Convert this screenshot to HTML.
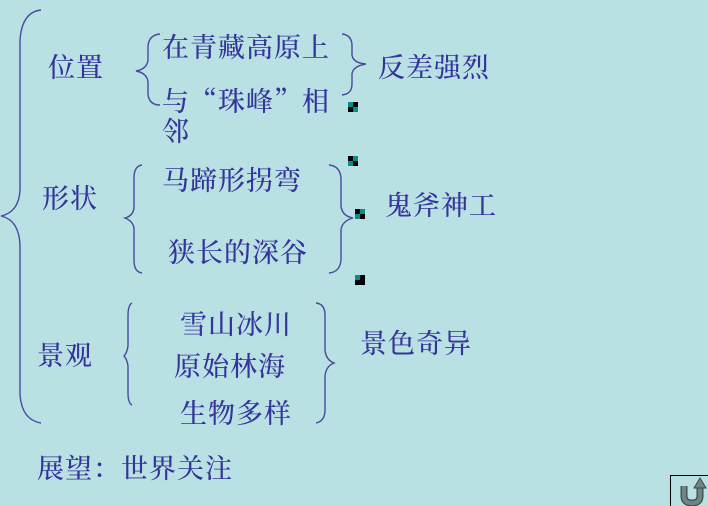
<!DOCTYPE html>
<html><head><meta charset="utf-8"><style>
html,body{margin:0;padding:0;background:#b9e0e3;}
svg{display:block}
text{font-family:"Noto Serif CJK SC","Noto Sans CJK SC",serif;font-size:27px;letter-spacing:1px;fill:#35349a;font-weight:500;}
path{fill:none;stroke:#4a4a9e;stroke-width:1.4}
</style></head><body>
<svg width="708" height="506" viewBox="0 0 708 506">
<rect width="708" height="506" fill="#b9e0e3"/>
<path d="M41,10 Q22,12 20,40 L20,190 Q19,212 1,216 Q19,220 20,245 L20,395 Q22,420 41,423"/>
<path d="M160,34 Q149,35 148,46 L148,60 Q147,69 136,71 Q147,73 148,82 L148,94 Q149,105 160,105"/>
<path d="M342,34 Q352,35 352,46 L352,55 Q353,63 366,64 Q353,66 352,74 L352,84 Q352,94 342,95"/>
<path d="M142,165 Q134,166 134,178 L134,208 Q133,216 125,218 Q133,221 134,228 L134,260 Q134,272 142,273"/>
<path d="M329,165 Q340,166 341,178 L341,206 Q342,216 353,218 Q342,221 341,230 L341,260 Q340,272 329,273"/>
<path d="M132,303 Q128,305 128,316 L128,346 Q127,353 124,356 Q127,359 128,366 L128,393 Q128,403 132,405"/>
<path d="M316,303 Q325,304 325,315 L325,350 Q326,360 334,363 Q326,366 325,376 L325,410 Q325,421 316,423"/>
<g>
<rect x="348" y="102" width="10" height="10" fill="#000"/><rect x="348" y="102" width="5" height="5" fill="#0a8c8c"/><rect x="353" y="107" width="5" height="5" fill="#0a8c8c"/>
<rect x="348" y="156" width="10" height="10" fill="#000"/><rect x="353" y="156" width="5" height="5" fill="#0a8c8c"/><rect x="348" y="161" width="5" height="5" fill="#0a8c8c"/>
<rect x="355" y="209" width="10" height="10" fill="#000"/><rect x="355" y="214" width="5" height="5" fill="#0a8c8c"/><rect x="360" y="209" width="5" height="5" fill="#0a8c8c"/>
<rect x="355" y="275" width="10" height="10" fill="#000"/><rect x="355" y="275" width="5" height="5" fill="#0a8c8c"/>
</g>
<text x="48" y="77">位置</text>
<text x="162" y="57">在青藏高原上</text>
<text x="162" y="111">与“珠峰”相</text>
<text x="162" y="141">邻</text>
<text x="378" y="77">反差强烈</text>
<text x="42" y="208">形状</text>
<text x="162" y="190">马蹄形拐弯</text>
<text x="168" y="262">狭长的深谷</text>
<text x="385" y="215">鬼斧神工</text>
<text x="37" y="365">景观</text>
<text x="180" y="334">雪山冰川</text>
<text x="174" y="376">原始林海</text>
<text x="180" y="423">生物多样</text>
<text x="360" y="353">景色奇异</text>
<text x="37" y="478">展望：世界关注</text>
<rect x="670.5" y="475.5" width="40" height="32" fill="none" stroke="#000" stroke-width="1"/>
<path d="M684,486 L684,496 Q684,503 692,503 Q700,503 700,496 L700,487" style="stroke:#3a4a4a;stroke-width:7;fill:none"/>
<path d="M684,486 L684,496 Q684,503 692,503 Q700,503 700,496 L700,487" style="stroke:#6e8585;stroke-width:4.5;fill:none"/>
<polygon points="694,488 700,478 706,488" fill="#6e8585" stroke="#3a4a4a" stroke-width="1"/>
</svg>
</body></html>
